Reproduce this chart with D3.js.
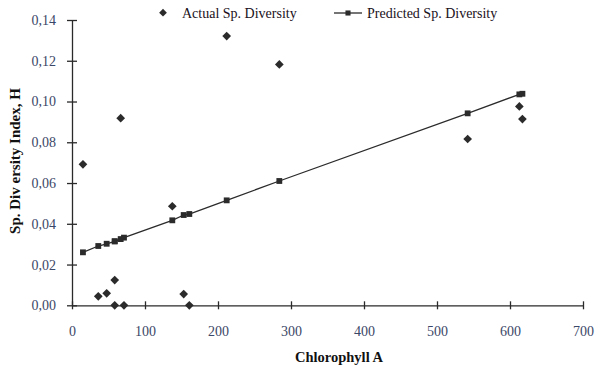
<!DOCTYPE html>
<html>
<head>
<meta charset="utf-8">
<script src="https://cdn.jsdelivr.net/npm/d3@7"></script>
<style>
  html, body { margin: 0; padding: 0; background: #fff; }
  svg { display: block; }
  text { font-family: "Liberation Serif", "DejaVu Serif", serif; }
</style>
</head>
<body>
<svg id="chart" width="597" height="370"></svg>
<script>
// Chlorophyll A readings for each sampling site
const chlorophyll = [15, 36, 47.5, 58.5, 58.5, 66.7, 71.2, 137.4, 153, 160.7, 211.9, 284, 542, 612.8, 617];
// Observed species diversity index (H)
const actualDiversity = [0.0692, 0.0044, 0.0059, 0.0124, 0, 0.0918, 0, 0.0486, 0.0055, 0, 0.1321, 0.1182, 0.0816, 0.0976, 0.0914];
// Diversity predicted by the regression on chlorophyll A
const predictedDiversity = [0.0260, 0.0291, 0.0302, 0.0314, 0.0314, 0.0325, 0.0332, 0.0417, 0.0443, 0.0448, 0.0515, 0.0610, 0.0942, 0.1035, 0.1038];

const xTicks = [0, 100, 200, 300, 400, 500, 600, 700];
const yTicks = [0, 0.02, 0.04, 0.06, 0.08, 0.10, 0.12, 0.14];
const seriesNames = ["Actual Sp. Diversity", "Predicted Sp. Diversity"];
const xTitle = "Chlorophyll A";
const yTitle = "Sp. Div ersity Index, H";

const svg = d3.select("#chart");
const plotLeft = 72, plotRight = 583, plotTop = 20, plotBottom = 305.3;

const x = d3.scaleLinear().domain([0, 700]).range([plotLeft, plotRight]);
const y = d3.scaleLinear().domain([0, 0.14]).range([plotBottom, plotTop]);

const comma = d3.formatLocale({ decimal: ",", thousands: ".", grouping: [3], currency: ["", ""] });
const yFmt = comma.format(".2f");

const axisColor = "#2a2a2a";
const tickTextColor = "#3b4767";

// X axis: ticks cross the axis line
const xAxis = svg.append("g")
  .attr("transform", `translate(0,${plotBottom})`)
  .call(d3.axisBottom(x).tickValues(xTicks).tickSize(4).tickSizeOuter(0).tickPadding(17));
xAxis.select(".domain").attr("stroke", axisColor).attr("stroke-width", 1.3);
xAxis.selectAll(".tick line").attr("stroke", axisColor).attr("stroke-width", 1.3).attr("y1", -4);
xAxis.selectAll(".tick text")
  .attr("fill", tickTextColor).attr("font-size", 14).attr("font-family", "Liberation Serif, serif");

// Y axis
const yAxis = svg.append("g")
  .attr("transform", `translate(${plotLeft},0)`)
  .call(d3.axisLeft(y).tickValues(yTicks).tickFormat(yFmt).tickSize(5).tickSizeOuter(0).tickPadding(11));
yAxis.select(".domain").attr("stroke", axisColor).attr("stroke-width", 1.3);
yAxis.selectAll(".tick line").attr("stroke", axisColor).attr("stroke-width", 1.3).attr("x2", 5).attr("x1", -5);
yAxis.selectAll(".tick text")
  .attr("fill", tickTextColor).attr("font-size", 14).attr("font-family", "Liberation Serif, serif");

// Axis titles
svg.append("text")
  .attr("x", 339).attr("y", 362)
  .attr("text-anchor", "middle")
  .attr("font-size", 14.5).attr("font-weight", "bold").attr("fill", "#111")
  .text(xTitle);

svg.append("text")
  .attr("transform", "translate(20,161) rotate(-90)")
  .attr("text-anchor", "middle")
  .attr("font-size", 15).attr("font-weight", "bold").attr("fill", "#111")
  .text(yTitle);

const markColor = "#2b2b2b";
const predicted = chlorophyll.map((c, i) => ({ c, v: predictedDiversity[i] }))
  .sort((a, b) => a.c - b.c);

// Predicted regression line with square markers
svg.append("path")
  .datum(predicted)
  .attr("fill", "none").attr("stroke", markColor).attr("stroke-width", 1.3)
  .attr("d", d3.line().x(d => x(d.c)).y(d => y(d.v)));

const square = d3.symbol().type(d3.symbolSquare).size(34);
svg.append("g").selectAll("path")
  .data(predicted).join("path")
  .attr("transform", d => `translate(${x(d.c)},${y(d.v)})`)
  .attr("d", square).attr("fill", markColor);

// Observed values as diamonds (squares turned 45°)
const diamond = d3.symbol().type(d3.symbolSquare).size(38);
svg.append("g").selectAll("path")
  .data(chlorophyll.map((c, i) => ({ c, v: actualDiversity[i] }))).join("path")
  .attr("transform", d => `translate(${x(d.c)},${y(d.v)}) rotate(45)`)
  .attr("d", diamond).attr("fill", markColor);

// Legend
const legend = svg.append("g");
legend.append("path")
  .attr("transform", "translate(163,12.7) rotate(45)")
  .attr("d", d3.symbol().type(d3.symbolSquare).size(30)).attr("fill", markColor);
legend.append("text")
  .attr("x", 182).attr("y", 18)
  .attr("font-size", 14).attr("fill", "#1a1020")
  .text(seriesNames[0]);
legend.append("line")
  .attr("x1", 334).attr("x2", 362).attr("y1", 13).attr("y2", 13)
  .attr("stroke", markColor).attr("stroke-width", 1.3);
legend.append("path")
  .attr("transform", "translate(348,13)")
  .attr("d", d3.symbol().type(d3.symbolSquare).size(26)).attr("fill", markColor);
legend.append("text")
  .attr("x", 367).attr("y", 18)
  .attr("font-size", 14).attr("fill", "#1a1020")
  .text(seriesNames[1]);
</script>
</body>
</html>
